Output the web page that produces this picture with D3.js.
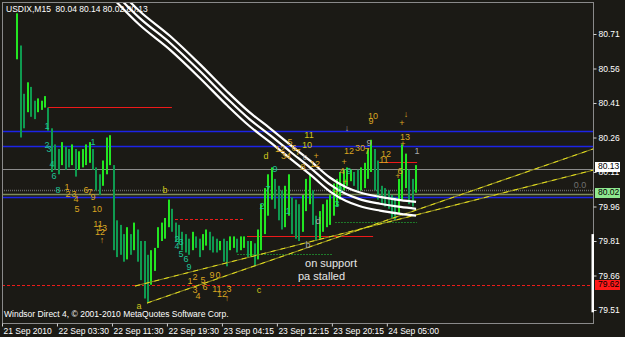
<!DOCTYPE html>
<html>
<head>
<meta charset="utf-8">
<script src="https://cdn.jsdelivr.net/npm/d3@7"></script>
<style>
  body { margin: 0; background: #1b1a15; }
  svg { display: block; }
</style>
</head>
<body>
<div id="container"></div>
<script>
/* CONSTANTS */
const width = 625,
  height = 337,
  plot = { left: 2, right: 593, top: 2, bottom: 323 };

// M15 bar index of the first drawn bar, and how many M15 bars each drawn bar stands for
const firstBar = 9, barStep = 2;

// high / low of each bar
const highs = [
  80.80, 80.66, 80.45, 80.50, 80.48, 80.42, 80.43, 80.42, 80.44, 80.39,
  80.30, 80.23, 80.21, 80.24, 80.22, 80.21, 80.23, 80.21, 80.20, 80.21,
  80.23, 80.24, 80.21, 80.13, 80.10, 80.16, 80.26, 80.27, 80.14, 79.90,
  79.88, 79.84, 79.87, 79.84, 79.89, 79.86, 79.81, 79.81, 79.75, 79.77,
  79.78, 79.87, 79.89, 79.91, 79.99, 79.95, 79.89, 79.88, 79.85, 79.84,
  79.82, 79.85, 79.83, 79.82, 79.84, 79.86, 79.85, 79.83, 79.82, 79.81,
  79.82, 79.81, 79.83, 79.83, 79.82, 79.83, 79.83, 79.81, 79.81, 79.80,
  79.86, 79.97, 80.04, 80.10, 80.13, 80.08, 80.05, 80.03, 80.05, 80.10,
  80.00, 79.99, 79.97, 80.01, 80.08, 80.10, 80.03, 79.92, 79.94, 79.97,
  79.99, 80.01, 80.06, 80.08, 80.11, 80.12, 80.13, 80.12, 80.11, 80.12,
  80.13, 80.15, 80.21, 80.25, 80.21, 80.16, 80.05, 80.04, 80.03, 80.01,
  80.00, 80.08, 80.23, 80.19, 80.12, 80.08, 80.14
];
const lows = [
  80.60, 80.26, 80.30, 80.37, 80.35, 80.34, 80.37, 80.38, 80.39, 80.29,
  80.11, 80.12, 80.10, 80.14, 80.12, 80.13, 80.14, 80.09, 80.12, 80.13,
  80.14, 80.15, 80.12, 80.03, 80.01, 80.05, 80.10, 80.14, 79.77, 79.74,
  79.75, 79.72, 79.73, 79.75, 79.77, 79.72, 79.64, 79.56, 79.54, 79.62,
  79.68, 79.78, 79.81, 79.82, 79.87, 79.85, 79.81, 79.80, 79.77, 79.76,
  79.75, 79.77, 79.78, 79.74, 79.77, 79.79, 79.77, 79.76, 79.76, 79.77,
  79.72, 79.70, 79.77, 79.78, 79.76, 79.77, 79.78, 79.74, 79.74, 79.70,
  79.73, 79.77, 79.84, 79.92, 79.99, 79.95, 79.90, 79.86, 79.87, 79.92,
  79.84, 79.82, 79.81, 79.85, 79.94, 79.97, 79.88, 79.81, 79.82, 79.85,
  79.87, 79.88, 79.92, 79.96, 79.99, 80.03, 80.05, 80.07, 80.05, 80.03,
  80.03, 80.04, 80.08, 80.11, 80.03, 79.99, 79.97, 79.96, 79.95, 79.91,
  79.90, 79.93, 79.99, 80.04, 79.97, 79.96, 80.02
];

// axes
const priceTicks = [80.71, 80.56, 80.41, 80.26, 80.11, 79.96, 79.81, 79.66, 79.51];
const timeTicks = [0, 32, 64, 96, 128, 160, 192, 224];
const timeLabels = ["21 Sep 2010", "22 Sep 03:30", "22 Sep 11:30", "22 Sep 19:30",
  "23 Sep 04:15", "23 Sep 12:15", "23 Sep 20:15", "24 Sep 05:00"];

// moving average (middle of the white envelope): bar index, price
const maIdx = [64, 80, 98, 115, 131, 144, 156, 168, 180, 191, 200, 208, 220, 232, 241];
const maMid = [80.90, 80.78, 80.67, 80.55, 80.43, 80.34, 80.27, 80.197, 80.125, 80.055,
  80.015, 79.992, 79.972, 79.958, 79.950];
const maBand = 0.03;

// trend lines: [fromIdx, fromPrice, toIdx, toPrice]
const trendLines = [
  [77.4, 79.614, 344, 80.118],
  [84.4, 79.540, 344, 80.210]
];

// horizontal levels: [fromIdx, toIdx, price, kind]
const levels = [
  [0, 344, 80.288, "blue"],
  [0, 344, 80.223, "blue"],
  [0, 344, 80.123, "grey"],
  [0, 344, 80.032, "greyDot"],
  [0, 344, 80.014, "bid"],
  [0, 344, 80.001, "blue"],
  [0, 344, 79.619, "redDot"],
  [26.8, 98.9, 80.393, "red"],
  [100.7, 140.3, 79.906, "redDot"],
  [142.6, 216.0, 79.832, "red"],
  [136.8, 192.1, 79.753, "greenDot"],
  [193.8, 241.6, 79.893, "greenDot"],
  [218.9, 241.6, 80.153, "red"]
];

// price boxes on the right scale: [price, kind]
const priceBoxes = [[80.13, "ask"], [80.02, "bid"], [79.62, "alert"]];
const scrollRange = [79.50, 79.84];

// wave counts and notes: [barIdx, price, text, tone]
const marks = [
  [26.2, 80.306, "1", "teal"], [26.2, 80.223, "2", "teal"], [27.4, 80.206, "3", "teal"],
  [29.1, 80.140, "4", "teal"], [30.3, 80.088, "6", "teal"], [32.6, 80.027, "8", "teal"],
  [53.0, 80.236, "1", "teal"], [101.9, 79.814, "2", "teal"], [101.9, 79.784, "4", "teal"],
  [104.2, 79.805, "3", "teal"], [104.2, 79.749, "5", "teal"], [107.1, 79.727, "6", "teal"],
  [108.8, 79.693, "9", "teal"], [151.3, 79.958, "2", "teal"], [154.8, 80.032, "7", "teal"],
  [158.9, 80.119, "9", "teal"], [166.5, 79.936, "1", "teal"], [195.0, 79.967, "3", "teal"],
  [196.7, 80.032, "0", "teal"], [202.0, 80.110, "9", "teal"],
  [37.8, 80.040, "1", "gold"], [38.4, 80.010, "2", "gold"], [41.9, 80.010, "3", "gold"],
  [43.1, 79.988, "4", "gold"], [43.7, 79.945, "5", "gold"], [48.9, 80.027, "6", "gold"],
  [51.2, 80.019, "7", "gold"], [53.0, 79.997, "9", "gold"], [55.3, 79.945, "10", "gold"],
  [55.9, 79.880, "11", "gold"], [58.2, 79.862, "13", "gold"], [57.0, 79.845, "12", "gold"],
  [58.2, 79.810, "↑", "gold"], [109.4, 79.632, "1", "gold"], [112.3, 79.649, "2", "gold"],
  [112.3, 79.593, "3", "gold"], [114.1, 79.567, "4", "gold"], [117.0, 79.636, "5", "gold"],
  [118.2, 79.606, "6", "gold"], [122.2, 79.658, "9", "gold"], [125.7, 79.658, "0", "gold"],
  [125.1, 79.597, "11", "gold"], [128.1, 79.575, "12", "gold"], [132.1, 79.597, "3", "gold"],
  [131.0, 79.558, "↑", "gold"], [161.8, 80.206, "12", "gold"], [165.3, 80.175, "34", "gold"],
  [167.6, 80.236, "5", "gold"], [170.0, 80.210, "6", "gold"], [172.3, 80.193, "7", "gold"],
  [175.2, 80.127, "8", "gold"], [182.2, 80.140, "12", "gold"], [182.8, 80.175, "+", "gold"],
  [194.4, 80.019, "+", "gold"], [199.7, 80.062, "+", "gold"], [199.1, 80.149, "+", "gold"],
  [197.9, 80.110, "4", "gold"], [202.0, 80.197, "12", "gold"], [208.4, 80.210, "30", "gold"],
  [212.5, 80.197, "7", "gold"], [214.8, 80.327, "9", "gold"], [216.0, 80.349, "10", "gold"],
  [222.3, 80.158, "11", "gold"], [223.5, 80.184, "12", "gold"], [230.5, 80.088, "+", "gold"],
  [231.7, 80.110, "6", "gold"], [232.8, 80.319, "+", "gold"], [233.4, 80.227, "+", "gold"],
  [234.6, 80.258, "13", "gold"], [235.2, 80.358, "↓", "gold"],
  [94.9, 80.027, "b", "yellow"], [79.7, 79.523, "a", "yellow"], [149.6, 79.593, "c", "yellow"],
  [153.7, 80.175, "d", "yellow"], [177.5, 80.223, "10", "yellow"], [178.7, 80.266, "11", "yellow"],
  [176.4, 80.171, "c", "grey"], [178.1, 79.788, "b", "grey"], [183.9, 79.893, "d", "grey"],
  [200.8, 80.297, "↓", "grey"], [213.6, 80.232, "9", "grey"], [241.6, 80.197, "1", "grey"],
  [336.4, 80.049, "0.0", "dim"]
];
const notes = [[176.4, 79.71, "on support"], [172.3, 79.653, "pa stalled"]];

const titleText = "USDIX,M15  80.04 80.14 80.02 80.13";
const footerText = "Windsor Direct 4, © 2001-2010 MetaQuotes Software Corp.";

/* STYLES */
const levelStyle = {
  blue: { stroke: "#1c24e6", dash: null, w: 1.4 },
  grey: { stroke: "#8c8c8c", dash: null, w: 1 },
  greyDot: { stroke: "#6a6a6a", dash: "1,1", w: 1.5 },
  bid: { stroke: "#7f8c5c", dash: null, w: 1.5 },
  red: { stroke: "#ee1a1a", dash: null, w: 1.2 },
  redDot: { stroke: "#ee1a1a", dash: "3,2", w: 1.2 },
  greenDot: { stroke: "#1f7a2a", dash: "2,1", w: 1 }
};
const toneColor = {
  teal: "#1fc496", gold: "#d9a521", yellow: "#cfc51c", grey: "#a8a8a8", dim: "#707070"
};
const boxColor = { ask: "#ffffff", bid: "#8fe88f", alert: "#ff1a1a" };
const font = "'Liberation Sans', Arial, sans-serif";

/* SCALES */
const xScale = d3.scaleLinear().domain([0, 344]).range([plot.left, plot.right]);
const yScale = d3.scaleLinear().domain([79.51, 80.71]).range([310, 34]);

const svg = d3.select("#container")
  .append("svg")
  .attr("width", width)
  .attr("height", height)
  .style("font-family", font);

svg.append("rect").attr("width", width).attr("height", height).attr("fill", "#1b1a15");

// title and footer sit under the drawing
svg.append("text").attr("x", 6).attr("y", 12)
  .attr("font-size", 8.5).attr("fill", "#ffffff")
  .attr("xml:space", "preserve")
  .text(titleText);
svg.append("text").attr("x", 4).attr("y", 317)
  .attr("font-size", 8.5).attr("fill", "#ffffff")
  .text(footerText);

svg.append("clipPath").attr("id", "plotClip")
  .append("rect")
  .attr("x", plot.left).attr("y", plot.top)
  .attr("width", plot.right - plot.left).attr("height", plot.bottom - plot.top);

const g = svg.append("g").attr("clip-path", "url(#plotClip)");

// horizontal levels
g.selectAll(".level")
  .data(levels)
  .join("line")
  .attr("class", "level")
  .attr("x1", d => xScale(d[0]))
  .attr("x2", d => xScale(d[1]))
  .attr("y1", d => Math.round(yScale(d[2])) + 0.5)
  .attr("y2", d => Math.round(yScale(d[2])) + 0.5)
  .attr("stroke", d => levelStyle[d[3]].stroke)
  .attr("stroke-width", d => levelStyle[d[3]].w)
  .attr("stroke-dasharray", d => levelStyle[d[3]].dash);

// bars
const bars = highs.map((h, i) => ({ idx: firstBar + i * barStep, hi: h, lo: lows[i] }));
g.selectAll(".bar")
  .data(bars)
  .join("rect")
  .attr("class", "bar")
  .attr("x", d => Math.round(xScale(d.idx)) - 1)
  .attr("width", 2)
  .attr("y", d => yScale(d.hi))
  .attr("height", d => Math.max(1, yScale(d.lo) - yScale(d.hi)))
  .attr("fill", (d, i) => {
    if (i === 0) return "#22e622";
    const mid = (d.hi + d.lo) / 2, prev = (bars[i - 1].hi + bars[i - 1].lo) / 2;
    return mid >= prev ? "#22e622" : "#0f9a50";
  });

// trend lines (olive under, yellow dashes over)
g.selectAll(".trendBase")
  .data(trendLines)
  .join("line")
  .attr("class", "trendBase")
  .attr("x1", d => xScale(d[0])).attr("y1", d => yScale(d[1]))
  .attr("x2", d => xScale(d[2])).attr("y2", d => yScale(d[3]))
  .attr("stroke", "#8a8624")
  .attr("stroke-width", 1.1);
g.selectAll(".trendTop")
  .data(trendLines)
  .join("line")
  .attr("class", "trendTop")
  .attr("x1", d => xScale(d[0])).attr("y1", d => yScale(d[1]))
  .attr("x2", d => xScale(d[2])).attr("y2", d => yScale(d[3]))
  .attr("stroke", "#e6e01c")
  .attr("stroke-width", 1)
  .attr("stroke-dasharray", "5,5");

// moving average envelope, three white lines
const maLine = d3.line()
  .x(d => xScale(d[0]))
  .y(d => yScale(d[1]))
  .curve(d3.curveMonotoneX);
[maBand, 0, -maBand].forEach(off => {
  const pts = maIdx.map((x, i) => [x, maMid[i] + off]);
  g.append("path")
    .attr("d", maLine(pts))
    .attr("fill", "none")
    .attr("stroke", "#ffffff")
    .attr("stroke-width", 2.2);
});

// wave counts
g.selectAll(".mark")
  .data(marks)
  .join("text")
  .attr("class", "mark")
  .attr("x", d => xScale(d[0]))
  .attr("y", d => yScale(d[1]))
  .attr("text-anchor", "middle")
  .attr("dominant-baseline", "middle")
  .attr("font-size", 9)
  .attr("fill", d => toneColor[d[3]])
  .text(d => d[2]);

g.selectAll(".note")
  .data(notes)
  .join("text")
  .attr("class", "note")
  .attr("x", d => xScale(d[0]))
  .attr("y", d => yScale(d[1]))
  .attr("dominant-baseline", "middle")
  .attr("font-size", 11)
  .attr("fill", "#e6e6e6")
  .text(d => d[2]);

// frame
svg.append("rect")
  .attr("x", plot.left + 0.5).attr("y", plot.top + 0.5)
  .attr("width", plot.right - plot.left).attr("height", plot.bottom - plot.top)
  .attr("fill", "none").attr("stroke", "#8a8a8a");

// price axis
const yAxis = d3.axisRight(yScale).tickValues(priceTicks).tickFormat(d3.format(".2f")).tickSize(3);
const yAxisGroup = svg.append("g")
  .attr("transform", `translate(${plot.right + 0.5},0)`)
  .call(yAxis);
yAxisGroup.select(".domain").remove();
yAxisGroup.selectAll("line").attr("stroke", "#d0d0d0");
yAxisGroup.selectAll("text").attr("fill", "#ffffff").attr("font-size", 8.5)
  .attr("font-family", font).attr("x", 5);

// scroll marker on the price scale
svg.append("rect")
  .attr("x", plot.right - 1.5).attr("width", 2.5)
  .attr("y", yScale(scrollRange[1]))
  .attr("height", yScale(scrollRange[0]) - yScale(scrollRange[1]))
  .attr("fill", "#ffffff");

// price boxes
const boxes = svg.selectAll(".pbox").data(priceBoxes).join("g").attr("class", "pbox")
  .attr("transform", d => `translate(${plot.right + 2},${Math.round(yScale(d[0]))})`);
boxes.append("rect").attr("x", 0).attr("y", -5).attr("width", 25).attr("height", 10)
  .attr("fill", d => boxColor[d[1]]);
boxes.append("text").attr("x", 3).attr("y", 0).attr("dominant-baseline", "middle")
  .attr("font-size", 8.5).attr("fill", "#000000")
  .text(d => d3.format(".2f")(d[0]));

// time axis
const xAxis = d3.axisBottom(xScale).tickValues(timeTicks).tickFormat((d, i) => timeLabels[i]).tickSize(3);
const xAxisGroup = svg.append("g")
  .attr("transform", `translate(0,${plot.bottom + 0.5})`)
  .call(xAxis);
xAxisGroup.select(".domain").remove();
xAxisGroup.selectAll("line").attr("stroke", "#d0d0d0");
xAxisGroup.selectAll("text").attr("fill", "#ffffff").attr("font-size", 8.5)
  .attr("font-family", font).attr("text-anchor", "start").attr("x", 1).attr("y", 4);
</script>
</body>
</html>
